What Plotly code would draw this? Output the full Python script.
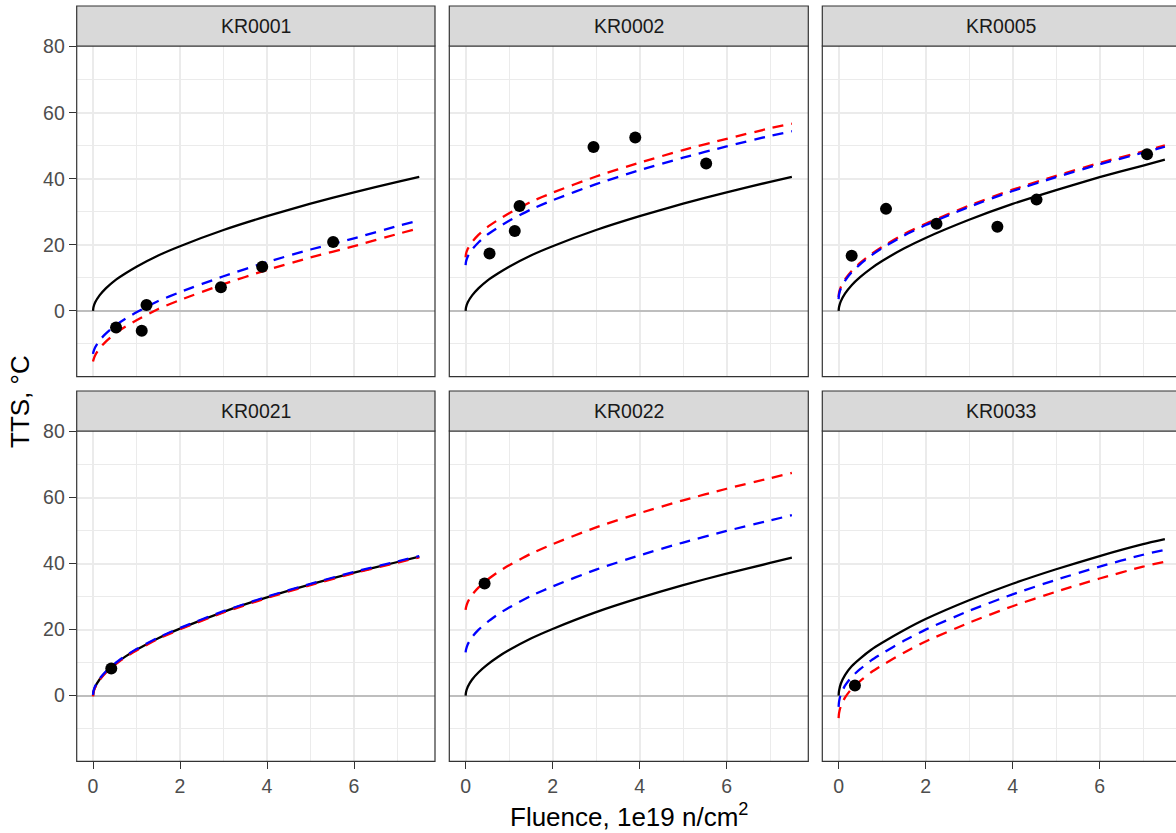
import plotly.graph_objects as go

# ---------------------------------------------------------------- data
PANELS = ["KR0001", "KR0002", "KR0005", "KR0021", "KR0022", "KR0033"]

# fluence grid used for the model curves (1e19 n/cm^2)
FLUENCE = [0, 0.01, 0.05, 0.15, 0.3, 0.5, 0.75, 1, 1.5, 2, 3, 4, 5, 6, 7, 7.5]

# model curves, TTS in degC (black = solid, red / blue = dashed)
kr0001_black = [0, 1.1, 2.6, 4.7, 6.9, 9.2, 11.4, 13.4, 16.8, 19.6, 24.5, 28.7, 32.5, 35.9, 39.1, 40.6]
kr0001_red = [-15.3, -14.8, -13.4, -11.3, -9.2, -6.9, -4.7, -2.8, 0.6, 3.3, 8.1, 12.4, 16.2, 19.6, 23.3, 25.0]
kr0001_blue = [-13.0, -12.4, -11.0, -8.9, -6.8, -4.5, -2.3, -0.4, 3.0, 5.7, 10.5, 14.8, 18.6, 22.0, 25.7, 27.4]

kr0002_black = [0, 1.1, 2.6, 4.7, 6.9, 9.2, 11.4, 13.4, 16.8, 19.6, 24.5, 28.7, 32.5, 35.9, 39.1, 40.6]
kr0002_red = [16.2, 17.3, 18.8, 20.9, 23.1, 25.4, 27.6, 29.6, 33.0, 35.8, 40.7, 44.9, 48.7, 52.1, 55.3, 56.7]
kr0002_blue = [13.9, 15.0, 16.5, 18.6, 20.8, 23.1, 25.3, 27.3, 30.7, 33.5, 38.4, 42.6, 46.4, 49.8, 53.0, 54.4]

kr0005_black = [0, 1.2, 2.9, 5.3, 7.8, 10.3, 12.9, 15.1, 18.9, 22.1, 27.6, 32.4, 36.6, 40.5, 44.0, 45.8]
kr0005_red = [4.2, 5.5, 7.2, 9.6, 12.1, 14.6, 17.2, 19.4, 23.2, 26.4, 31.9, 36.7, 40.9, 44.8, 48.3, 50.1]
kr0005_blue = [3.6, 5.0, 6.8, 9.2, 11.7, 14.2, 16.8, 19.0, 22.8, 26.0, 31.5, 36.3, 40.5, 44.4, 47.9, 49.7]

kr0021_black = [0, 1.1, 2.7, 4.9, 7.2, 9.5, 11.9, 13.9, 17.4, 20.3, 25.4, 29.8, 33.7, 37.3, 40.5, 42.1]
kr0021_red = [-0.2, 0.9, 2.5, 4.7, 7.0, 9.3, 11.7, 13.7, 17.2, 20.1, 25.2, 29.6, 33.5, 37.1, 40.3, 41.9]
kr0021_blue = [0.2, 1.3, 2.9, 5.1, 7.4, 9.7, 12.1, 14.1, 17.6, 20.5, 25.6, 30.0, 33.9, 37.5, 40.7, 42.3]

kr0022_black = [0, 1.1, 2.7, 4.9, 7.1, 9.4, 11.8, 13.8, 17.3, 20.2, 25.3, 29.6, 33.5, 37.0, 40.2, 41.8]
kr0022_red = [26.0, 26.8, 28.4, 30.6, 32.8, 35.1, 37.5, 39.5, 43.0, 45.9, 51.0, 55.3, 59.2, 62.7, 65.9, 67.5]
kr0022_blue = [13.1, 14.0, 15.6, 17.8, 20.0, 22.3, 24.7, 26.7, 30.2, 33.1, 38.2, 42.5, 46.4, 49.9, 53.1, 54.7]

kr0033_black = [0, 1.5, 3.6, 6.3, 8.9, 11.3, 13.9, 16.0, 19.8, 23.2, 28.9, 33.9, 38.3, 42.3, 45.9, 47.4]
kr0033_red = [-6.8, -5.3, -3.2, -0.5, 2.1, 4.5, 7.1, 9.2, 13.0, 16.4, 22.1, 27.1, 31.5, 35.5, 39.1, 40.6]
kr0033_blue = [-3.4, -1.8, 0.4, 3.1, 5.7, 8.1, 10.7, 12.8, 16.6, 20.0, 25.7, 30.7, 35.1, 39.1, 42.7, 44.2]

# measured surveillance data
kr0001_obs_x = [0.53, 1.12, 1.23, 2.94, 3.89, 5.52]
kr0001_obs_y = [-5.0, -6.0, 1.8, 7.2, 13.4, 20.9]
kr0002_obs_x = [0.55, 1.13, 1.24, 2.94, 3.90, 5.53]
kr0002_obs_y = [17.4, 24.2, 31.8, 49.6, 52.5, 44.6]
kr0005_obs_x = [0.30, 1.09, 2.25, 3.65, 4.55, 7.09]
kr0005_obs_y = [16.7, 30.9, 26.4, 25.5, 33.7, 47.4]
kr0021_obs_x = [0.42]
kr0021_obs_y = [8.2]
kr0022_obs_x = [0.436]
kr0022_obs_y = [34.0]
kr0033_obs_x = [0.375]
kr0033_obs_y = [3.1]

X_TICKS = [0, 2, 4, 6]
X_MINOR = [1, 3, 5, 7]
Y_TICKS = [0, 20, 40, 60, 80]
Y_MINOR = [-10, 10, 30, 50, 70]

curves = {
    "KR0001": (kr0001_black, kr0001_red, kr0001_blue, kr0001_obs_x, kr0001_obs_y),
    "KR0002": (kr0002_black, kr0002_red, kr0002_blue, kr0002_obs_x, kr0002_obs_y),
    "KR0005": (kr0005_black, kr0005_red, kr0005_blue, kr0005_obs_x, kr0005_obs_y),
    "KR0021": (kr0021_black, kr0021_red, kr0021_blue, kr0021_obs_x, kr0021_obs_y),
    "KR0022": (kr0022_black, kr0022_red, kr0022_blue, kr0022_obs_x, kr0022_obs_y),
    "KR0033": (kr0033_black, kr0033_red, kr0033_blue, kr0033_obs_x, kr0033_obs_y),
}

# ---------------------------------------------------------------- layout geometry (px)
W, H = 1176, 833
COLS = [(76.7, 435.0), (449.3, 808.3), (822.3, 1176.0)]
ROWS = [(46.0, 376.7), (431.0, 761.3)]
STRIPS = [(6.0, 46.0), (391.0, 431.0)]
PX_PER_UNIT = 43.5
X_LO = -0.375
Y_RANGE = [-19.9, 80.2]

FONT = "Liberation Sans, Arial, Helvetica, sans-serif"
GRID = "#EBEBEB"
DARK = "#333333"
DASH = "11px,8px"
LW = 2.3

fig = go.Figure()
shapes, annotations = [], []

for i, name in enumerate(PANELS):
    r, c = divmod(i, 3)
    n = i + 1
    sfx = "" if n == 1 else str(n)
    xref, yref = "x" + sfx, "y" + sfx
    black, red, blue, ox, oy = curves[name]

    fig.add_trace(go.Scatter(x=FLUENCE, y=black, mode="lines", xaxis=xref, yaxis=yref,
                             line=dict(color="black", width=LW, shape="spline", smoothing=0.6),
                             showlegend=False, hoverinfo="skip"))
    fig.add_trace(go.Scatter(x=FLUENCE, y=red, mode="lines", xaxis=xref, yaxis=yref,
                             line=dict(color="#FF0000", width=LW, dash=DASH, shape="spline", smoothing=0.6),
                             showlegend=False, hoverinfo="skip"))
    fig.add_trace(go.Scatter(x=FLUENCE, y=blue, mode="lines", xaxis=xref, yaxis=yref,
                             line=dict(color="#0000FF", width=LW, dash=DASH, shape="spline", smoothing=0.6),
                             showlegend=False, hoverinfo="skip"))
    fig.add_trace(go.Scatter(x=ox, y=oy, mode="markers", xaxis=xref, yaxis=yref,
                             marker=dict(color="black", size=12, line=dict(width=0)),
                             showlegend=False, hoverinfo="skip"))

    c0, c1 = COLS[c]
    r0, r1 = ROWS[r]
    s0, s1 = STRIPS[r]
    bottom_row = r == 1
    left_col = c == 0

    fig.update_layout(**{
        "xaxis" + sfx: dict(
            domain=[c0 / W, c1 / W], anchor=yref, automargin=False,
            range=[X_LO, X_LO + (c1 - c0) / PX_PER_UNIT],
            tickvals=X_TICKS, showticklabels=bottom_row,
            ticks="outside" if bottom_row else "", ticklen=7, tickwidth=1.1, tickcolor=DARK,
            tickfont=dict(family=FONT, size=19.5, color="#4D4D4D"),
            showgrid=True, gridcolor=GRID, gridwidth=1.6,
            minor=dict(tickvals=X_MINOR, showgrid=True, gridcolor=GRID, gridwidth=0.8),
            zeroline=False, showline=False, fixedrange=True,
        ),
        "yaxis" + sfx: dict(
            domain=[1 - r1 / H, 1 - r0 / H], anchor=xref, automargin=False,
            range=Y_RANGE,
            tickvals=Y_TICKS, showticklabels=left_col,
            ticks="outside" if left_col else "", ticklen=7, tickwidth=1.1, tickcolor=DARK,
            tickfont=dict(family=FONT, size=19.5, color="#4D4D4D"),
            showgrid=True, gridcolor=GRID, gridwidth=1.6,
            minor=dict(tickvals=Y_MINOR, showgrid=True, gridcolor=GRID, gridwidth=0.8),
            # reference line at TTS = 0
            zeroline=True, zerolinecolor="#BEBEBE", zerolinewidth=1.9,
            showline=False, fixedrange=True,
        ),
    })

    right = c1 / W if c < 2 else 1.02
    # panel border
    shapes.append(dict(type="rect", xref="paper", yref="paper", x0=c0 / W, x1=right,
                       y0=1 - r1 / H, y1=1 - r0 / H, line=dict(color=DARK, width=1.2),
                       fillcolor="rgba(0,0,0,0)", layer="above"))
    # facet strip
    shapes.append(dict(type="rect", xref="paper", yref="paper", x0=c0 / W, x1=right,
                       y0=1 - s1 / H, y1=1 - s0 / H, line=dict(color=DARK, width=1.2),
                       fillcolor="#D9D9D9", layer="above"))
    strip_center = (c0 + c1) / 2 if c < 2 else (c0 + c0 + (COLS[0][1] - COLS[0][0])) / 2
    annotations.append(dict(text=name, xref="paper", yref="paper", x=strip_center / W,
                            y=1 - (s0 + s1) / 2 / H, xanchor="center", yanchor="middle",
                            showarrow=False, font=dict(family=FONT, size=19.5, color="#1A1A1A")))

# axis titles
annotations.append(dict(text="Fluence, 1e19 n/cm<sup>2</sup>", xref="paper", yref="paper",
                        x=628.5 / W, y=1 - 815 / H, xanchor="center", yanchor="middle",
                        showarrow=False, font=dict(family=FONT, size=26, color="black")))
annotations.append(dict(text="TTS, °C", xref="paper", yref="paper", textangle=-90,
                        x=20 / W, y=1 - 402 / H, xanchor="center", yanchor="middle",
                        showarrow=False, font=dict(family=FONT, size=26, color="black")))

fig.update_layout(
    width=W, height=H, autosize=False,
    margin=dict(l=0, r=0, t=0, b=0, pad=0, autoexpand=False),
    paper_bgcolor="white", plot_bgcolor="white",
    shapes=shapes, annotations=annotations,
    showlegend=False,
)

fig.write_html("out.html", config={"displayModeBar": False})
